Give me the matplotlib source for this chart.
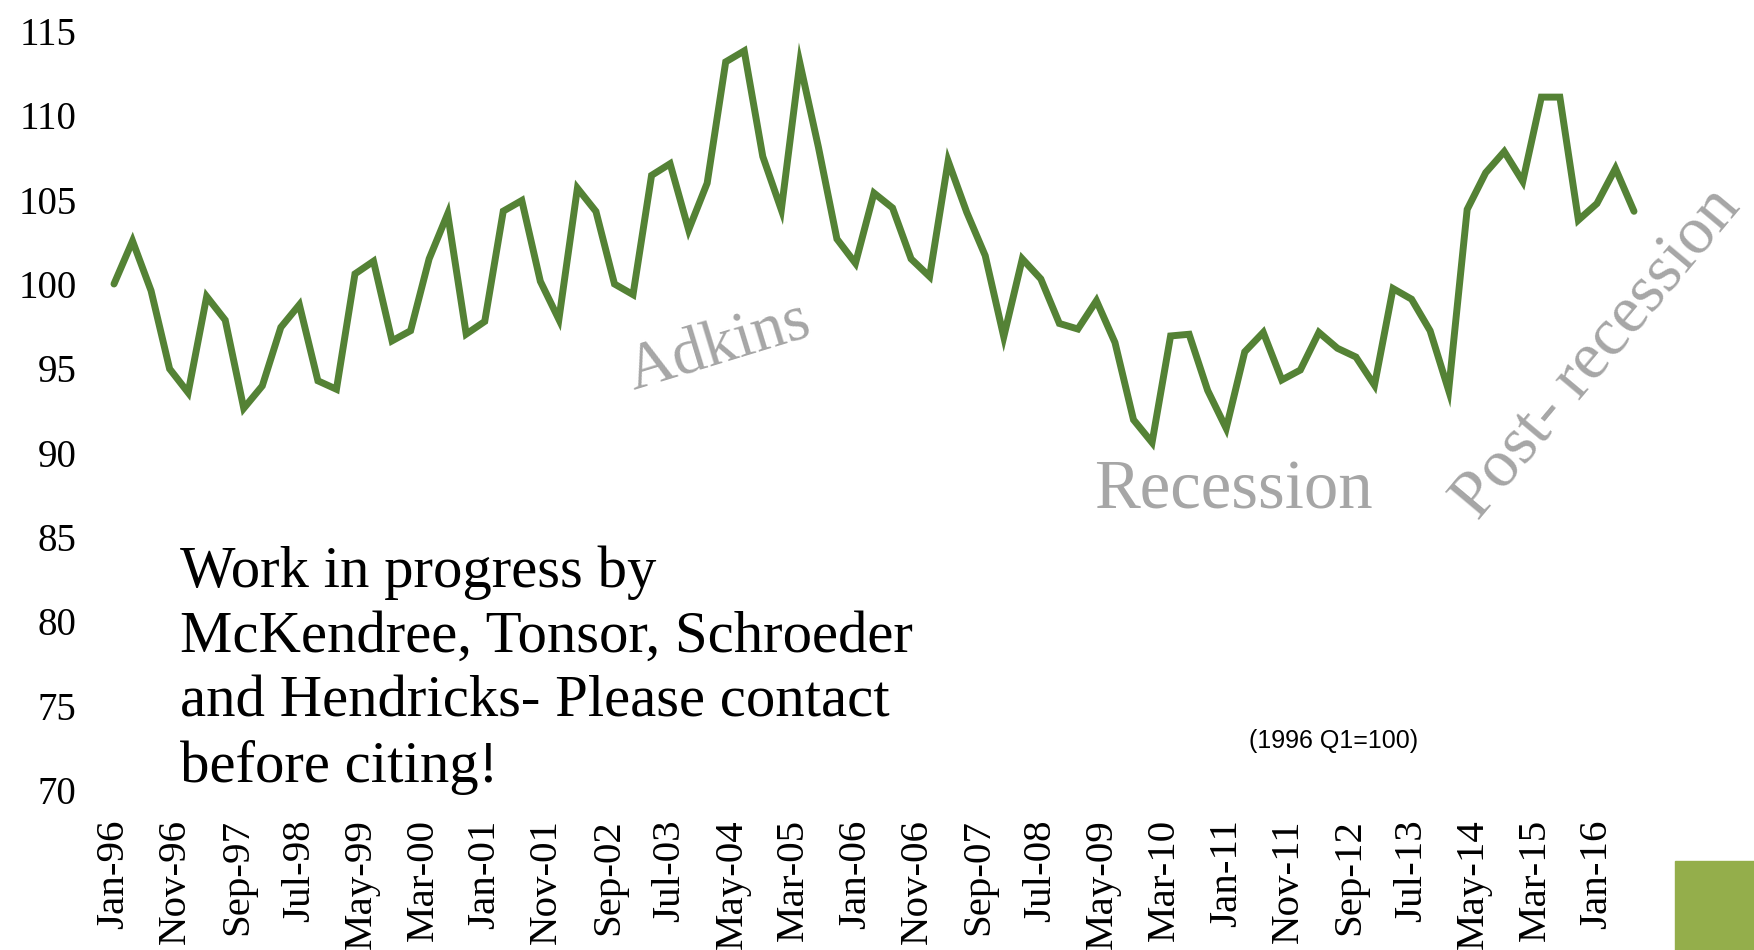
import matplotlib
matplotlib.use("Agg")
import matplotlib.pyplot as plt
from matplotlib.patches import Rectangle
import numpy as np

# ---- data (quarterly index, 1996 Q1 = 100) ----
values = [100.0, 102.55, 99.6, 94.97, 93.56, 99.26, 97.86, 92.63, 93.96, 97.43,
          98.77, 94.26, 93.76, 100.6, 101.35, 96.63, 97.23, 101.49, 104.16, 97.03,
          97.78, 104.32, 104.95, 100.16, 97.9, 105.68, 104.3, 100.0, 99.37, 106.44,
          107.13, 103.21, 105.98, 113.17, 113.82, 107.56, 104.40, 113.11, 108.12, 102.67,
          101.23, 105.39, 104.51, 101.49, 100.44, 107.29, 104.26, 101.68, 96.87, 101.49,
          100.30, 97.66, 97.33, 99.01, 96.53, 91.95, 90.6, 96.92, 97.02, 93.69,
          91.44, 95.98, 97.13, 94.31, 94.90, 97.13, 96.19, 95.67, 94.0, 99.73,
          99.10, 97.23, 93.69, 104.42, 106.60, 107.85, 106.08, 111.08, 111.08, 103.79,
          104.77, 106.85, 104.31]
months_per_obs = 3  # quarterly observations starting Jan-96
tick_labels = ["Jan-96", "Nov-96", "Sep-97", "Jul-98", "May-99", "Mar-00", "Jan-01",
               "Nov-01", "Sep-02", "Jul-03", "May-04", "Mar-05", "Jan-06", "Nov-06",
               "Sep-07", "Jul-08", "May-09", "Mar-10", "Jan-11", "Nov-11", "Sep-12",
               "Jul-13", "May-14", "Mar-15", "Jan-16"]
tick_step_months = 10
y_ticks = [70, 75, 80, 85, 90, 95, 100, 105, 110, 115]

W, H = 1754, 950
fig = plt.figure(figsize=(W / 100, H / 100), dpi=100)
ax = fig.add_axes([114 / W, 1 - 790 / H, (1634 - 114) / W, (790 - 31) / H])

x = np.arange(len(values)) * months_per_obs
ax.plot(x, values, color="#548235", lw=5.0, solid_capstyle="round",
        solid_joinstyle="miter", clip_on=False)

ax.set_xlim(0, (len(values) - 1) * months_per_obs)
ax.set_ylim(70, 115)
ax.set_xticks(np.arange(len(tick_labels)) * tick_step_months)
ax.set_xticklabels(tick_labels, rotation=90, fontsize=29.5, family="Liberation Serif")
ax.set_yticks(y_ticks)
ax.set_yticklabels([str(v) for v in y_ticks], fontsize=28, family="Liberation Serif")
ax.tick_params(axis="x", length=0, pad=21)
ax.tick_params(axis="y", length=0, pad=27)
for s in ax.spines.values():
    s.set_visible(False)

def fx(px):
    return px / W

def fy(py):
    return 1 - py / H

grey = "#A6A6A6"
fig.text(fx(719), fy(347), "Adkins", color=grey, fontsize=47, family="Liberation Serif",
         rotation=17, ha="center", va="center")
fig.text(fx(1094), fy(509), "Recession", color=grey, fontsize=49.5, family="Liberation Serif",
         ha="left", va="baseline")
fig.text(fx(1598), fy(354), "Post- recession", color=grey, fontsize=49,
         family="Liberation Serif", rotation=50, ha="center", va="center")

fig.text(fx(180), fy(782),
         "Work in progress by\nMcKendree, Tonsor, Schroeder\nand Hendricks- Please contact\nbefore citing!",
         color="black", fontsize=42.3, family="Liberation Serif", ha="left", va="baseline",
         linespacing=1.26)

fig.text(fx(1334), fy(741), "(1996 Q1=100)", color="black", fontsize=18,
         family=["Liberation Sans Narrow", "Liberation Sans"], ha="center", va="center")

fig.patches.append(Rectangle((fx(1675), 0), (W - 1675) / W, (H - 861) / H,
                             transform=fig.transFigure, color="#94AE4B", zorder=0))

fig.savefig("out.png", dpi=100)
